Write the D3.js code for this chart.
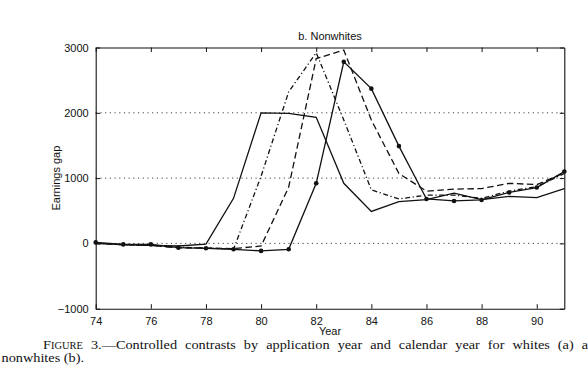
<!doctype html>
<html>
<head>
<meta charset="utf-8">
<title>Nonwhites</title>
<script src="https://cdnjs.cloudflare.com/ajax/libs/d3/7.8.5/d3.min.js"></script>
<style>
  body { margin: 0; background: #fff; }
  svg { display: block; }
</style>
</head>
<body>
<script>

// DATA
var years = [74, 75, 76, 77, 78, 79, 80, 81, 82, 83, 84, 85, 86, 87, 88, 89, 90, 91];

// solid line, no markers
var app79 = [0, -20, -30, -40, -10, 690, 2000, 1990, 1930, 920, 490, 640, 670, 770, 670, 720, 700, 840];
// dash-dot line
var app80 = [0, -20, -30, -60, -70, -90, 1030, 2320, 2920, 1890, 820, 680, 740, 740, 690, 800, 870, 1070];
// dashed line
var app81 = [0, -20, -30, -70, -70, -80, -40, 860, 2830, 2960, 1890, 1070, 800, 830, 840, 920, 900, 1080];
// solid line with dots
var app82 = [15, -15, -15, -65, -75, -90, -115, -90, 920, 2780, 2370, 1490, 680, 650, 665, 780, 855, 1100];

var xTicks = [74, 76, 78, 80, 82, 84, 86, 88, 90];
var yTicks = [-1000, 0, 1000, 2000, 3000];
var gridVals = [0, 1000, 2000];

var series = [
  {name: "app79", vals: app79, dash: null, dots: false},
  {name: "app80", vals: app80, dash: "5,2.6,1.2,2.6", dots: false},
  {name: "app81", vals: app81, dash: "6.5,3.5", dots: false},
  {name: "app82", vals: app82, dash: null, dots: true}
];

var w = 588, h = 386;
var pLeft = 95.7, pRight = 564.3, pTop = 47.5, pBottom = 308.7;

var svg = d3.select("body").append("svg").attr("width", w).attr("height", h);

var x = d3.scaleLinear().domain([74, 91]).range([pLeft, pRight]);
var y = d3.scaleLinear().domain([-1000, 3000]).range([pBottom, pTop]);

var sans = "'Liberation Sans', Arial, Helvetica, sans-serif";

// GRID (dotted, horizontal only)
svg.selectAll("line.grid")
  .data(gridVals)
  .enter().append("line")
  .attr("class", "grid")
  .attr("x1", pLeft).attr("x2", pRight)
  .attr("y1", function(d){ return y(d); })
  .attr("y2", function(d){ return y(d); })
  .attr("stroke", "#444")
  .attr("stroke-width", 1)
  .attr("stroke-dasharray", "1.2,3.5");

// AXES box with inward ticks
var gB = svg.append("g").attr("transform", "translate(0," + pBottom + ")")
  .call(d3.axisBottom(x).tickValues(xTicks).tickSizeInner(-4.5).tickSizeOuter(0).tickPadding(9));
var gT = svg.append("g").attr("transform", "translate(0," + pTop + ")")
  .call(d3.axisTop(x).tickValues(xTicks).tickSizeInner(-4.5).tickSizeOuter(0).tickFormat(""));
var gL = svg.append("g").attr("transform", "translate(" + pLeft + ",0)")
  .call(d3.axisLeft(y).tickValues(yTicks).tickSizeInner(-4.5).tickSizeOuter(0).tickPadding(7)
    .tickFormat(function(d){ return d < 0 ? "\u2212" + Math.abs(d) : d; }));
var gR = svg.append("g").attr("transform", "translate(" + pRight + ",0)")
  .call(d3.axisRight(y).tickValues(yTicks).tickSizeInner(-4.5).tickSizeOuter(0).tickFormat(""));

[gB, gT, gL, gR].forEach(function(g){
  g.select(".domain").attr("stroke", "#111").attr("stroke-width", 1.1);
  g.selectAll(".tick line").attr("stroke", "#111").attr("stroke-width", 1);
  g.selectAll("text").attr("font-family", sans).attr("font-size", "11px").attr("fill", "#111");
});

// LINES
var line = d3.line()
  .x(function(d, i){ return x(years[i]); })
  .y(function(d){ return y(d); });

series.forEach(function(s){
  svg.append("path")
    .datum(s.vals)
    .attr("d", line)
    .attr("fill", "none")
    .attr("stroke", "#111")
    .attr("stroke-width", 1.3)
    .attr("stroke-dasharray", s.dash);

  if (s.dots) {
    svg.selectAll("circle." + s.name)
      .data(s.vals)
      .enter().append("circle")
      .attr("class", s.name)
      .attr("cx", function(d, i){ return x(years[i]); })
      .attr("cy", function(d){ return y(d); })
      .attr("r", 2.3)
      .attr("fill", "#111");
  }
});

// TITLE & LABELS
svg.append("text")
  .text("b. Nonwhites")
  .attr("x", (pLeft + pRight) / 2).attr("y", 40)
  .attr("text-anchor", "middle")
  .attr("font-family", sans).attr("font-size", "11px").attr("fill", "#111");

svg.append("text")
  .text("Year")
  .attr("x", (pLeft + pRight) / 2).attr("y", 334.5)
  .attr("text-anchor", "middle")
  .attr("font-family", sans).attr("font-size", "11px").attr("fill", "#111");

svg.append("text")
  .text("Earnings gap")
  .attr("transform", "translate(60," + ((pTop + pBottom) / 2) + ") rotate(-90)")
  .attr("text-anchor", "middle")
  .attr("font-family", sans).attr("font-size", "11px").attr("fill", "#111");

// CAPTION (scan is a little wide, so stretch horizontally, then justify with word spacing)
var serif = "'Liberation Serif', 'Times New Roman', serif";
var sx = 1.1;
var capRest = " 3.\u2014Controlled contrasts by application year and calendar year for whites (a) a";
var cap = svg.append("text")
  .attr("transform", "translate(43,349) scale(" + sx + ",1)")
  .attr("font-family", serif).attr("font-size", "13px").attr("fill", "#111");
cap.append("tspan").text("Figure").style("font-variant", "small-caps");
cap.append("tspan").text(capRest);

var natural = cap.node().getComputedTextLength();
var gaps = capRest.split(" ").length - 1;
var extra = Math.max(0, (545 / sx - natural) / gaps);
cap.attr("word-spacing", extra);

svg.append("text")
  .text("nonwhites (b).")
  .attr("transform", "translate(1.5,362) scale(" + sx + ",1)")
  .attr("font-family", serif).attr("font-size", "13px").attr("fill", "#111");

</script>
</body>
</html>
